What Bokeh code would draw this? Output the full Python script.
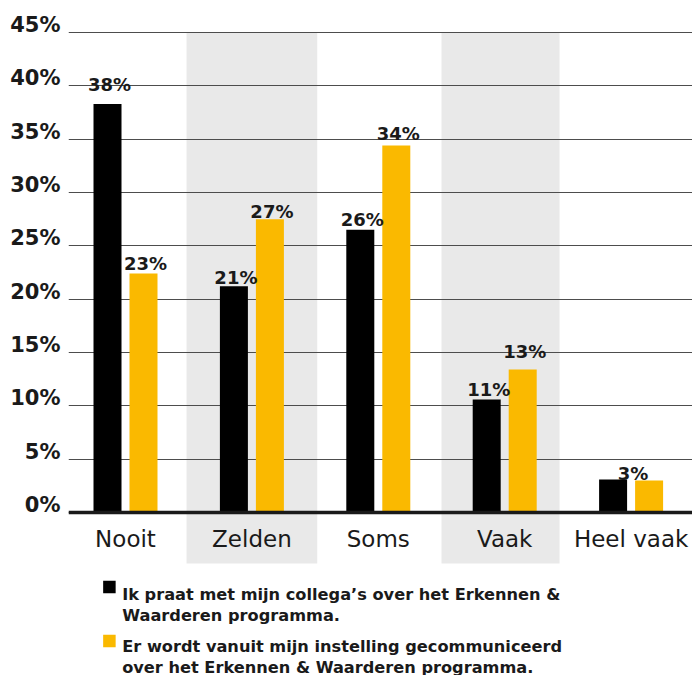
from bokeh.plotting import figure
from bokeh.models import (Range1d, LinearAxis, FixedTicker, PrintfTickFormatter,
                          ColumnDataSource, Grid)
from bokeh.core.properties import value
from bokeh.embed import file_html
from bokeh.resources import INLINE

# ---------------- data ----------------
categories = ["Nooit", "Zelden", "Soms", "Vaak", "Heel vaak"]
praat = [38.3, 21.2, 26.5, 10.6, 3.1]
gecommuniceerd = [22.4, 27.5, 34.4, 13.4, 3.0]
praat_labels = ["38%", "21%", "26%", "11%", "3%"]
gecommuniceerd_labels = ["23%", "27%", "34%", "13%", ""]
y_ticks = [0, 5, 10, 15, 20, 25, 30, 35, 40, 45]
legend_praat = ["Ik praat met mijn collega\u2019s over het Erkennen &",
                "Waarderen programma."]
legend_gecom = ["Er wordt vanuit mijn instelling gecommuniceerd",
                "over het Erkennen & Waarderen programma."]
shaded = ["Zelden", "Vaak"]

# ---------------- style / layout ----------------
W, H = 692, 675
FRAME_LEFT = 68
PX_CAT = 126.4
PX_PCT = 480 / 45
ZERO_Y = 512          # canvas y of 0%
FIRST_X = 125         # canvas x of first category
BLACK = "#000000"
YELLOW = "#FAB900"
TEXT = "#1a1a1a"
BAND = "#e9e9e9"
FONT_NAME = "DejaVu Sans"
FONT = value(FONT_NAME)
BAR_W = 28 / PX_CAT
OFF = 18 / PX_CAT


def dx(px):
    return (px - FIRST_X) / PX_CAT


def dy(py):
    return (ZERO_Y - py) / PX_PCT


x0 = -(FIRST_X - FRAME_LEFT) / PX_CAT
x1 = (W - FIRST_X) / PX_CAT
y1 = ZERO_Y / PX_PCT
y0 = -(H - ZERO_Y) / PX_PCT
lab_shift = 7.5 / PX_PCT

p = figure(width=W, height=H, x_range=Range1d(x0, x1), y_range=Range1d(y0, y1),
           output_backend="svg", toolbar_location=None,
           x_axis_location=None, y_axis_location=None,
           min_border_left=FRAME_LEFT, min_border_right=0,
           min_border_top=0, min_border_bottom=0)
p.outline_line_color = None
p.background_fill_color = "white"
p.border_fill_color = "white"
for g in p.grid:
    g.visible = False
p.extra_y_ranges = {"labels": Range1d(y0 - lab_shift, y1 - lab_shift)}

# shaded bands
band_left_off = {"Zelden": 0.517, "Vaak": 0.5}
band_right_off = {"Zelden": 0.517, "Vaak": 0.434}
bi = [categories.index(c) for c in shaded]
p.quad(left=[i - band_left_off[c] for i, c in zip(bi, shaded)],
       right=[i + band_right_off[c] for i, c in zip(bi, shaded)],
       top=[y_ticks[-1]] * len(bi), bottom=[dy(563)] * len(bi),
       fill_color=BAND, line_color=None, level="image")

# grid
grid = Grid(dimension=1, ticker=FixedTicker(ticks=y_ticks),
            grid_line_color="#4d4d4d", grid_line_width=1)
p.add_layout(grid, "center")

# bars
idx = list(range(len(categories)))
src = ColumnDataSource(dict(
    xb=[i - OFF for i in idx], xy=[i + OFF for i in idx],
    praat=praat, gecom=gecommuniceerd))
p.vbar(x="xb", top="praat", bottom=0, width=BAR_W, source=src,
       fill_color=BLACK, line_color=None)
p.vbar(x="xy", top="gecom", bottom=0, width=BAR_W, source=src,
       fill_color=YELLOW, line_color=None)

# value labels
lab_gap_b = [19, 9.3, 10, 10, 5.5]
lab_gap_y = [9.7, 7.3, 11.7, 17.6, 0]
lx, ly, lt, lo = [], [], [], []
for i in idx:
    for series, labels, gaps, off in ((praat, praat_labels, lab_gap_b, -OFF),
                                      (gecommuniceerd, gecommuniceerd_labels, lab_gap_y, OFF)):
        if not labels[i]:
            continue
        other = gecommuniceerd_labels[i] if off < 0 else praat_labels[i]
        xpos = i + (off if other else 0) + 2 / PX_CAT
        top = series[i] if other else max(praat[i], gecommuniceerd[i])
        lx.append(xpos)
        ly.append(top)
        lt.append(labels[i])
        lo.append(-gaps[i])
p.text(x=lx, y=ly, text=lt, y_offset=lo, text_font=FONT, text_font_style="bold",
       text_font_size="18px", text_align="center", text_baseline="alphabetic",
       text_color=TEXT)

# y axis (labels sit on the gridlines)
yaxis = LinearAxis(y_range_name="labels", ticker=FixedTicker(ticks=y_ticks),
                   formatter=PrintfTickFormatter(format="%d%%"),
                   axis_line_color=None, major_tick_line_color=None,
                   minor_tick_line_color=None, major_label_standoff=2,
                   major_label_text_font=FONT_NAME, major_label_text_font_style="bold",
                   major_label_text_font_size="21px", major_label_text_color=TEXT)
p.add_layout(yaxis, "left")

# x axis at 0
xaxis = LinearAxis(ticker=FixedTicker(ticks=idx),
                   major_label_overrides={i: c for i, c in zip(idx, categories)},
                   fixed_location=0, axis_line_color=TEXT, axis_line_width=3.3,
                   major_tick_line_color=None, minor_tick_line_color=None,
                   major_label_standoff=7, major_label_text_font=FONT_NAME,
                   major_label_text_font_size="23px", major_label_text_color=TEXT)
p.add_layout(xaxis, "below")

# legend
p.scatter(x=[dx(108.9), dx(108.9)], y=[dy(586.5), dy(640.5)], marker="square",
          size=12.5, fill_color=[BLACK, YELLOW], line_color=None)
leg_text = legend_praat + legend_gecom
leg_y = [dy(594), dy(615), dy(645.5), dy(666.5)]
p.text(x=[dx(121.7)] * 4, y=leg_y, text=leg_text, text_font=FONT,
       text_font_style="bold", text_font_size="16.2px", text_align="left",
       text_baseline="alphabetic", text_color=TEXT)

open("out.html", "w").write(file_html(p, INLINE))
